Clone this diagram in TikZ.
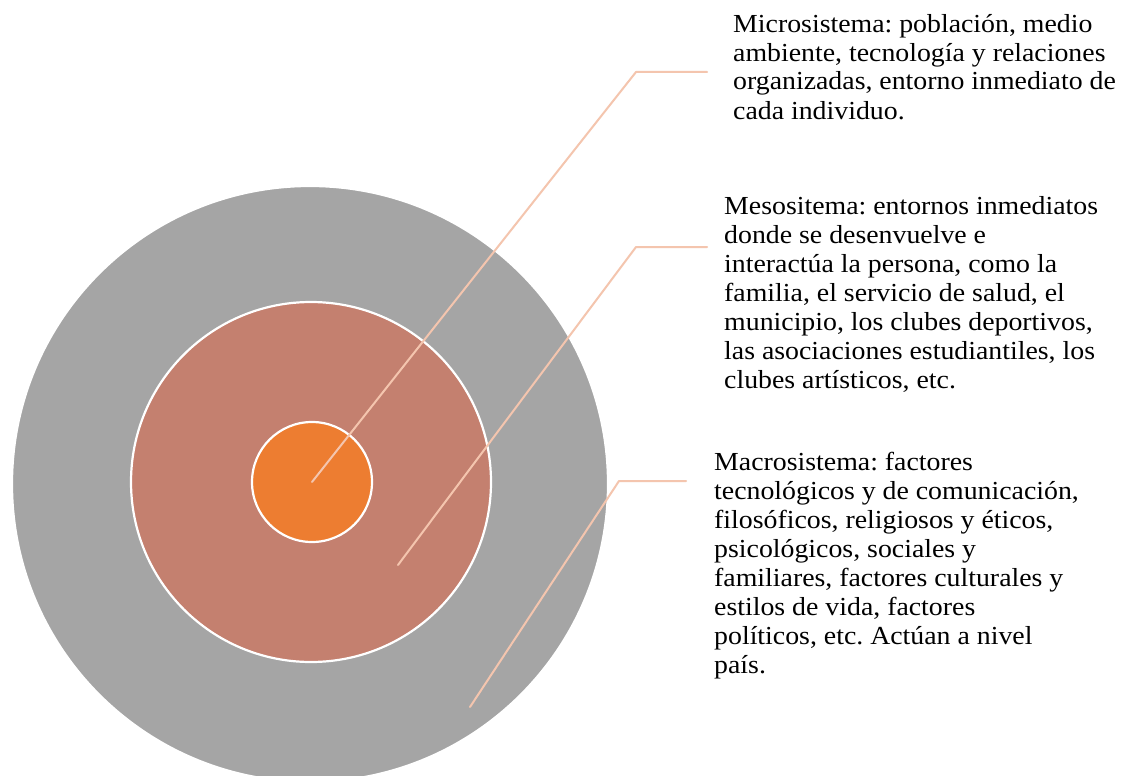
\documentclass[tikz,border=0pt]{standalone}
\usepackage{fontspec}
\setmainfont{Liberation Serif}
\newfontfamily\descfont{Liberation Serif}[FakeStretch=1.07]
\definecolor{outergray}{HTML}{A5A5A5}
\definecolor{midrose}{HTML}{C4806F}
\definecolor{innerorange}{HTML}{ED7D31}
\definecolor{leader}{HTML}{F4C5AE}
\begin{document}
\begin{tikzpicture}[x=1pt,y=-1pt,
  ring/.style={circle, draw=white, line width=2.2pt, inner sep=0pt, outer sep=0pt},
  leaderline/.style={draw=leader, line width=2pt, line cap=round, line join=round},
  desc/.style={anchor=base west, align=left, inner sep=0pt, font=\descfont\frenchspacing\fontsize{26}{29}\selectfont}]
\useasboundingbox (0,0) rectangle (1144,776);
\clip (0,0) rectangle (1144,776);
\fill[white] (0,0) rectangle (1144,776);
\node[ring, fill=outergray, minimum size=596pt] (macro) at (310,484) {};
\node[ring, fill=midrose, minimum size=360pt] (meso) at (311,482) {};
\node[ring, fill=innerorange, minimum size=120pt] (micro) at (312,482) {};
% leader line coordinates
\coordinate (mesostart) at (398,565);
\coordinate (macrostart) at (470,707);
\coordinate (microbend) at (636,72);
\coordinate (microend) at (707,72);
\coordinate (mesobend) at (636,247);
\coordinate (mesoend) at (707,247);
\coordinate (macrobend) at (619,481);
\coordinate (macroend) at (686,481);
\draw[leaderline] (micro.center) -- (microbend) -- (microend);
\draw[leaderline] (mesostart) -- (mesobend) -- (mesoend);
\draw[leaderline] (macrostart) -- (macrobend) -- (macroend);
% texts (anchored at the baseline of their last line)
\node[desc] (microtext) at (733,119) {Microsistema: población, medio\\ambiente, tecnología y relaciones\\organizadas, entorno inmediato de\\cada individuo.};
\node[desc] (mesotext) at (724,388) {Mesositema: entornos inmediatos\\donde se desenvuelve e\\interactúa la persona, como la\\familia, el servicio de salud, el\\municipio, los clubes deportivos,\\las asociaciones estudiantiles, los\\clubes artísticos, etc.};
\node[desc] (macrotext) at (714,673) {Macrosistema: factores\\tecnológicos y de comunicación,\\filosóficos, religiosos y éticos,\\psicológicos, sociales y\\familiares, factores culturales y\\estilos de vida, factores\\políticos, etc. Actúan a nivel\\país.};
\end{tikzpicture}
\end{document}
